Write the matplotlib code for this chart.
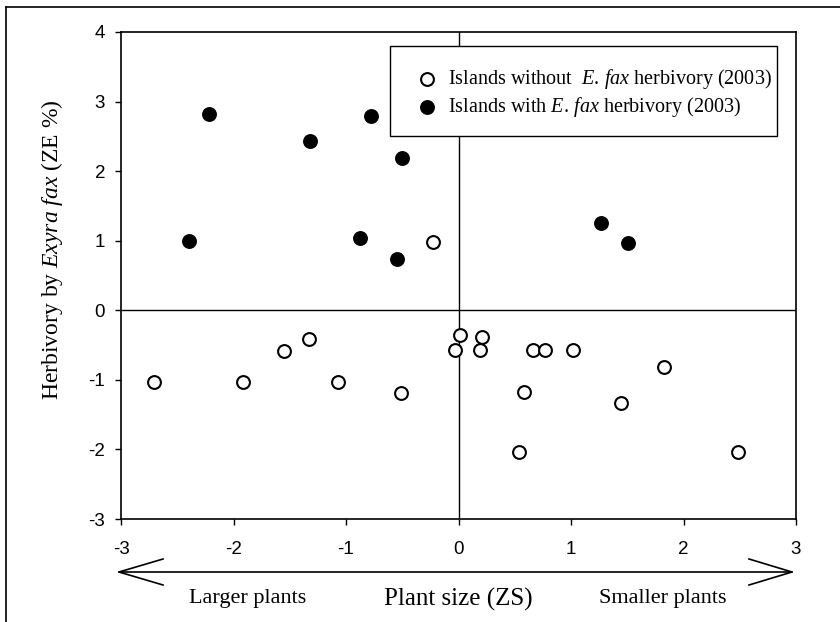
import matplotlib
matplotlib.use("Agg")
import matplotlib.pyplot as plt
from matplotlib.lines import Line2D
from matplotlib.patches import Rectangle

plt.rcParams['mathtext.fontset'] = 'custom'
plt.rcParams['mathtext.rm'] = 'Liberation Serif'
plt.rcParams['mathtext.it'] = 'Liberation Serif:italic'
plt.rcParams['axes.unicode_minus'] = False

# Data
open_x = [-0.23, -2.71, -1.92, -1.55, -1.33, -1.07, -0.51, -0.03, 0.01, 0.19,
          0.21, 0.66, 0.77, 1.02, 1.83, 0.58, 1.44, 0.54, 2.48]
open_y = [0.98, -1.03, -1.03, -0.58, -0.41, -1.03, -1.19, -0.57, -0.35, -0.57,
          -0.38, -0.57, -0.57, -0.57, -0.81, -1.18, -1.33, -2.04, -2.04]
filled_x = [-2.22, -2.40, -1.32, -0.78, -0.50, -0.88, -0.55, 1.27, 1.51]
filled_y = [2.82, 1.00, 2.43, 2.79, 2.19, 1.04, 0.73, 1.25, 0.96]
x_ticks = [-3, -2, -1, 0, 1, 2, 3]
y_ticks = [-3, -2, -1, 0, 1, 2, 3, 4]
label_open = r'Islands without  $\mathit{E.\,fax}$ herbivory (2003)'
label_filled = r'Islands with $\mathit{E.\,fax}$ herbivory (2003)'

W, H = 840, 622
fig = plt.figure(figsize=(W / 100, H / 100), dpi=100)
fig.patch.set_facecolor('white')

def fx(px):
    return px / W

def fy(py):
    return 1 - py / H

ax = fig.add_axes([fx(121), fy(519), fx(796) - fx(121), fy(32) - fy(519)])
ax.set_xlim(-3, 3)
ax.set_ylim(-3, 4)
ax.axhline(0, color='black', lw=1.0, zorder=1)
ax.axvline(0, color='black', lw=1.0, zorder=1)

ax.scatter(open_x, open_y, s=85, facecolors='white', edgecolors='black',
           linewidths=1.5, zorder=3, label=label_open)
ax.scatter(filled_x, filled_y, s=85, facecolors='black', edgecolors='black',
           linewidths=1.5, zorder=3, label=label_filled)

ax.set_xticks(x_ticks)
ax.set_yticks(y_ticks)
for lab in ax.get_xticklabels() + ax.get_yticklabels():
    lab.set_fontfamily('Liberation Sans')
    lab.set_fontsize(13.5)
ax.tick_params(axis='x', direction='out', length=4.5, width=1.0, pad=11)
ax.tick_params(axis='y', direction='out', length=4.5, width=1.0, pad=7)
for sp in ax.spines.values():
    sp.set_linewidth(1.2)

# y label
fig.text(fx(52), fy(250), r'Herbivory by $\mathit{Exyra\ fax}$ (ZE %)',
         rotation=90, ha='center', va='center', fontsize=17,
         family='Liberation Serif')

# Legend (box drawn separately)
fig.add_artist(Rectangle((fx(390), fy(136)), fx(777) - fx(390), fy(46) - fy(136),
                         transform=fig.transFigure, facecolor='white',
                         edgecolor='black', lw=1.0, zorder=4))
h, l = ax.get_legend_handles_labels()
leg = fig.legend(h, l, loc='center left', bbox_to_anchor=(fx(417), fy(93)),
                 bbox_transform=fig.transFigure, frameon=False,
                 prop={'family': 'Liberation Serif', 'size': 14.5},
                 handlelength=0.95, handletextpad=0.6, borderpad=0.0,
                 labelspacing=0.2, borderaxespad=0.0, scatterpoints=1)
leg.set_zorder(5)

# Figure border (top and left only)
fig.add_artist(Line2D([fx(6), fx(840)], [fy(7), fy(7)], transform=fig.transFigure,
                      color='black', lw=1.2))
fig.add_artist(Line2D([fx(6), fx(6)], [fy(7), fy(622)], transform=fig.transFigure,
                      color='black', lw=1.2))

# Double arrow below x axis
ay = 572
fig.add_artist(Line2D([fx(119), fx(792)], [fy(ay), fy(ay)], transform=fig.transFigure,
                      color='black', lw=1.2))
fig.add_artist(Line2D([fx(163), fx(119), fx(163)], [fy(559), fy(ay), fy(585)],
                      transform=fig.transFigure, color='black', lw=1.2))
fig.add_artist(Line2D([fx(749), fx(792), fx(749)], [fy(559), fy(ay), fy(585)],
                      transform=fig.transFigure, color='black', lw=1.2))

fig.text(fx(248), fy(599), 'Larger plants', ha='center', va='center',
         fontsize=16, family='Liberation Serif')
fig.text(fx(458), fy(599), 'Plant size (ZS)', ha='center', va='center',
         fontsize=18, family='Liberation Serif')
fig.text(fx(663), fy(599), 'Smaller plants', ha='center', va='center',
         fontsize=16, family='Liberation Serif')

fig.savefig('out.png', dpi=100)
